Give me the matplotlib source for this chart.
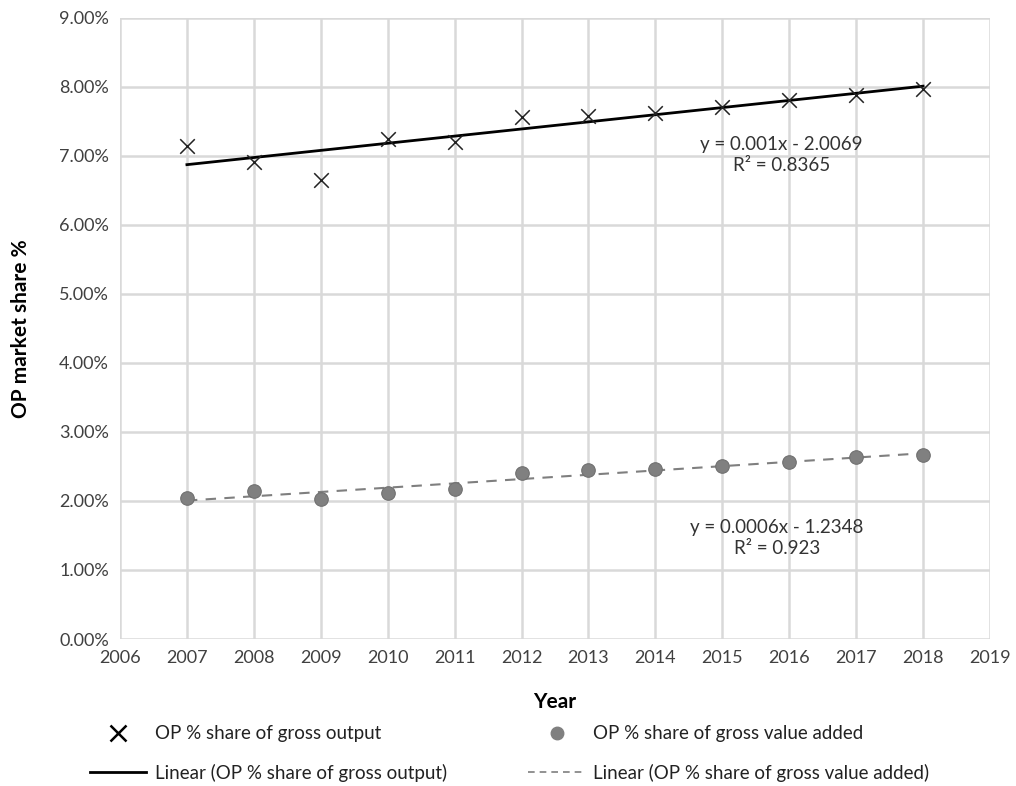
import matplotlib
matplotlib.use("Agg")
import matplotlib.pyplot as plt
import numpy as np
from matplotlib.lines import Line2D

years = [2007, 2008, 2009, 2010, 2011, 2012, 2013, 2014, 2015, 2016, 2017, 2018]
gross_output = [7.14, 6.92, 6.65, 7.25, 7.20, 7.57, 7.58, 7.63, 7.71, 7.81, 7.89, 7.97]
gross_value_added = [2.05, 2.14, 2.03, 2.11, 2.17, 2.41, 2.45, 2.46, 2.51, 2.56, 2.64, 2.66]
y_ticks = [0, 1, 2, 3, 4, 5, 6, 7, 8, 9]
x_ticks = list(range(2006, 2020))
eq_output = "y = 0.001x - 2.0069\nR² = 0.8365"
eq_gva = "y = 0.0006x - 1.2348\nR² = 0.923"

plt.rcParams['font.family'] = ['Lato', 'DejaVu Sans']

fig = plt.figure(figsize=(10.16, 7.86), dpi=100)
ax = fig.add_axes([120/1016, 1 - 639/786, 870/1016, 621/786])

x = np.array(years, dtype=float)
go = np.array(gross_output)
gva = np.array(gross_value_added)

grid_c = '#d9d9d9'
ax.set_xlim(2006, 2019)
ax.set_ylim(0, 9)
ax.set_xticks(x_ticks)
ax.set_yticks(y_ticks)
ax.set_yticklabels([f"{v:.2f}%" for v in y_ticks])
ax.grid(True, color=grid_c, linewidth=1.8)
ax.set_axisbelow(True)
for s in ax.spines.values():
    s.set_visible(False)
ax.tick_params(length=0, labelsize=13, colors='#404040', pad=8)

# trend lines
p1 = np.polyfit(x, go, 1)
p2 = np.polyfit(x, gva, 1)
ax.plot(x, np.polyval(p1, x), color='black', lw=2, zorder=3)
ax.plot(x, np.polyval(p2, x), color='#7f7f7f', lw=1.5, ls=(0, (5, 4)), zorder=3)

ax.scatter(x, go, marker='x', s=110, color='#222222', linewidths=1.1, zorder=4)
ax.scatter(x, gva, marker='o', s=95, color='#808080', edgecolors='#707070', linewidths=0.8, zorder=4)

ax.text(2015.88, 7.01, eq_output, ha='center', va='center', fontsize=13.5, color='#333333', linespacing=1.3)
ax.text(2015.82, 1.46, eq_gva, ha='center', va='center', fontsize=13.5, color='#333333', linespacing=1.3)

ax.set_ylabel('OP market share %', fontsize=15, fontweight='bold', labelpad=20)
ax.set_xlabel('Year', fontsize=15, fontweight='bold', labelpad=19)

handles = [
    Line2D([], [], marker='x', ls='none', color='black', markersize=11, markeredgewidth=1.8),
    Line2D([], [], color='black', lw=2),
    Line2D([], [], marker='o', ls='none', color='#808080', markersize=9),
    Line2D([], [], color='#7f7f7f', lw=1.2, ls=(0, (4, 3))),
]
labels = ['OP % share of gross output', 'Linear (OP % share of gross output)',
          'OP % share of gross value added', 'Linear (OP % share of gross value added)']
fig.legend(handles, labels, ncol=2, loc='lower left', bbox_to_anchor=(90/1016, 4/786),
           frameon=False, fontsize=13.5, handlelength=3.0, columnspacing=4.35,
           labelspacing=1.15, handletextpad=0.45, borderpad=0, borderaxespad=0,
           labelcolor='#222222')

fig.savefig('out.png', dpi=100)
